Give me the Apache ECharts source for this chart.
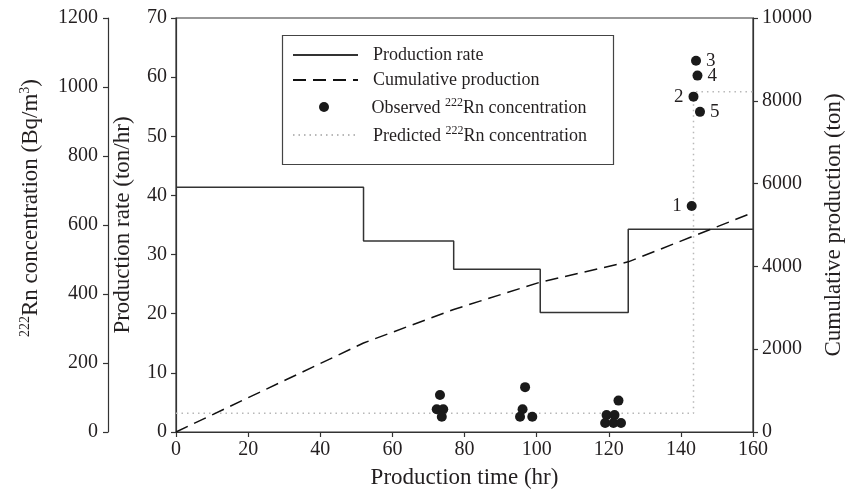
<!DOCTYPE html>
<html>
<head>
<meta charset="utf-8">
<script src="https://cdn.jsdelivr.net/npm/echarts@6/dist/echarts.min.js"></script>
<style>html,body{margin:0;padding:0;background:#fff}#c{width:851px;height:491px}</style>
</head>
<body>
<div id="c"></div>
<script>
// ---- data ----
const stepTimes = [0, 52, 77, 101, 125.4, 160];
const rates = [41.4, 32.3, 27.5, 20.2, 34.3, 34.3];
const cumTimes = [0, 52, 77, 101, 125.4, 160];
const cumProd = [0, 2150, 2960, 3620, 4110, 5300];
const obsTimes = [73.2, 72.3, 74.1, 73.7, 96.8, 96.1, 95.4, 98.8, 122.7, 119.4, 121.6, 119.0, 121.3, 123.4];
const obsRn = [107, 66, 66, 44, 130, 66, 44, 44, 91, 49, 49, 26, 26, 26];
const numTimes = [143.0, 143.5, 144.2, 144.6, 145.3];
const numRn = [655, 972, 1076, 1033, 928];
const numLabels = ['1', '2', '3', '4', '5'];
const numLabelSide = ['left', 'left', 'right', 'right', 'right'];
const predTimes = [0, 143.5, 143.5, 160];
const predRn = [54, 54, 986, 986];

const FONT = 'Liberation Serif';
const TXT = '#231f20';
const AX = '#333';
const TITLE = 23;

const zip = (a, b) => a.map((v, i) => [v, b[i]]);
const plain = v => String(v);

const sup = {fontFamily: FONT, fontSize: 14, color: TXT, verticalAlign: 'bottom', padding: [0, 0, 10, 0]};
const nTitle = {fontFamily: FONT, fontSize: TITLE, color: TXT, verticalAlign: 'bottom'};
const nLeg = {fontFamily: FONT, fontSize: 18, color: TXT, verticalAlign: 'bottom'};
const supLeg = {fontFamily: FONT, fontSize: 12, color: TXT, verticalAlign: 'bottom', padding: [0, 0, 8, 0]};

function axisBase(extra) {
  return Object.assign({
    type: 'value',
    axisLine: {show: true, lineStyle: {color: AX, width: 1.2}},
    axisTick: {show: true, inside: false, length: 5, lineStyle: {color: AX, width: 1.2}},
    axisLabel: {fontFamily: FONT, fontSize: 20, color: TXT, margin: 9, formatter: plain},
    splitLine: {show: false},
    nameLocation: 'middle',
    nameTextStyle: {fontFamily: FONT, fontSize: TITLE, color: TXT}
  }, extra);
}

const legendNames = ['Production rate', 'Cumulative production', 'Observed 222Rn concentration', 'Predicted 222Rn concentration'];
const legendTops = [41, 66, 92, 120];
const legendLefts = [287, 287, 314, 287];
const legendIsLine = [true, true, false, true];

function legFmt(name) {
  if (name.indexOf('222') >= 0) {
    const parts = name.split('222');
    return '{n|' + parts[0] + '}{s|222}{n|' + parts[1] + '}';
  }
  return '{n|' + name + '}';
}

const legends = legendNames.map((nm, i) => {
  const l = {
    data: [nm],
    left: legendLefts[i],
    top: legendTops[i],
    orient: 'vertical',
    itemWidth: 65,
    itemHeight: 10,
    selectedMode: false,
    formatter: legFmt,
    textStyle: {fontFamily: FONT, fontSize: 18, color: TXT, padding: [0, 0, 0, 10], rich: {n: nLeg, s: supLeg}}
  };
  if (legendIsLine[i]) l.itemStyle = {color: 'transparent', borderWidth: 0, opacity: 0};
  return l;
});

const chart = echarts.init(document.getElementById('c'), null, {renderer: 'canvas'});
chart.setOption({
  animation: false,
  backgroundColor: '#fff',
  grid: {left: 176, right: 98, top: 18, bottom: 59, containLabel: false, outerBoundsMode: 'none',
    show: true, borderColor: AX, borderWidth: 1.2, backgroundColor: 'transparent'},
  legend: legends,
  graphic: [{
    type: 'rect', left: 280, top: 33, z: 100,
    shape: {width: 331, height: 129},
    style: {fill: 'none', stroke: '#444', lineWidth: 1.2}
  }],
  xAxis: axisBase({
    min: 0, max: 160, interval: 20,
    name: 'Production time (hr)', nameGap: 34,
    axisLabel: {fontFamily: FONT, fontSize: 20, color: TXT, margin: 8, formatter: plain}
  }),
  yAxis: [
    axisBase({
      position: 'left', min: 0, max: 70, interval: 10,
      name: 'Production rate (ton/hr)', nameGap: 42
    }),
    axisBase({
      position: 'left', offset: 68, min: 0, max: 1200, interval: 200,
      name: '{s|222}{n|Rn concentration (Bq/m}{s|3}{n|)}', nameGap: 66,
      nameTextStyle: {fontFamily: FONT, fontSize: TITLE, color: TXT, padding: [0, 0, 0, 34], rich: {n: nTitle, s: sup}},
      axisLabel: {fontFamily: FONT, fontSize: 20, color: TXT, margin: 10, formatter: plain}
    }),
    axisBase({
      position: 'right', min: 0, max: 10000, interval: 2000,
      name: 'Cumulative production (ton)', nameGap: 69
    })
  ],
  series: [
    {
      name: 'Production rate', type: 'line', yAxisIndex: 0, step: 'end',
      data: zip(stepTimes, rates), symbol: 'none',
      lineStyle: {color: '#333', width: 1.5}, itemStyle: {color: '#333'}, z: 3
    },
    {
      name: 'Cumulative production', type: 'line', yAxisIndex: 2,
      data: zip(cumTimes, cumProd), symbol: 'none',
      lineStyle: {color: '#111', width: 1.5, type: [13, 7]}, itemStyle: {color: '#111'}, z: 3
    },
    {
      name: 'Observed 222Rn concentration', type: 'scatter', yAxisIndex: 1,
      data: zip(obsTimes, obsRn), symbol: 'circle', symbolSize: 10,
      itemStyle: {color: '#1a1a1a', opacity: 1}, z: 5
    },
    {
      name: 'Observed 222Rn concentration', type: 'scatter', yAxisIndex: 1,
      data: numTimes.map((t, i) => ({
        value: [t, numRn[i]],
        label: {show: true, formatter: numLabels[i], position: numLabelSide[i], distance: 5,
          fontFamily: FONT, fontSize: 19, color: TXT}
      })),
      symbol: 'circle', symbolSize: 10,
      itemStyle: {color: '#1a1a1a', opacity: 1}, z: 5
    },
    {
      name: 'Predicted 222Rn concentration', type: 'line', yAxisIndex: 1,
      data: zip(predTimes, predRn), symbol: 'none',
      lineStyle: {color: '#b8b8b8', width: 1.5, type: [1.5, 4]}, itemStyle: {color: '#b8b8b8'}, z: 2
    }
  ]
});
</script>
</body>
</html>
